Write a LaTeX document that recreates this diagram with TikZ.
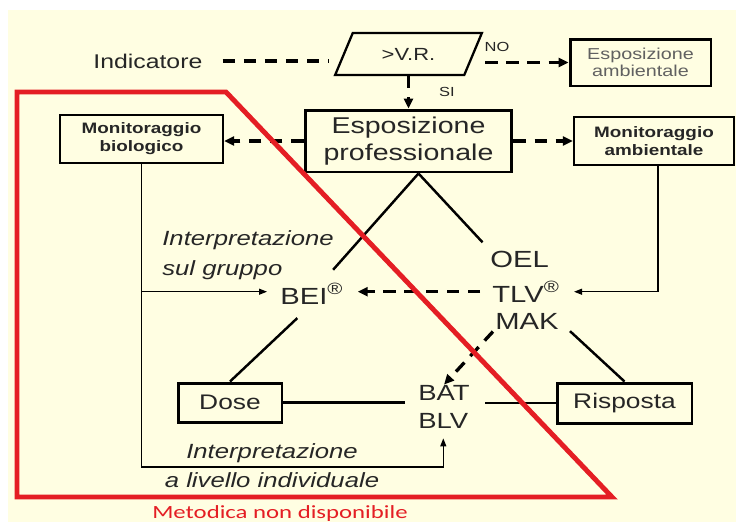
\documentclass[tikz,border=0pt]{standalone}
\usepackage{fontspec}
\setmainfont{Liberation Sans}[FakeStretch=1.25]
\newfontfamily\redfont{Carlito}[FakeStretch=1.33]
\usetikzlibrary{shapes.geometric,arrows.meta}
\definecolor{cream}{RGB}{255,254,226}
\definecolor{ink}{RGB}{38,38,38}
\definecolor{redline}{RGB}{228,30,36}

\begin{document}
\begin{tikzpicture}[x = .02cm, y = -.02cm,
  box/.style = {draw = black, line width = 1.7pt, fill = cream, align = center, text = ink, inner sep = 0pt},
  lbl/.style = {inner sep = 0pt, text = ink},
  tri/.style = {line width = 1.4pt},
  dline/.style = {line width = 1.9pt, dash pattern = on 7pt off 5pt},
  darrow/.style = {dline, -{Triangle[length = .2cm, width = .18cm]}},
  tarrow/.style = {line width = .7pt, -{Triangle[length = .16cm, width = .12cm]}}]
\useasboundingbox (0,0) rectangle (736,522);
\fill[white] (0,0) rectangle (736,522);
\fill[cream] (8,10) rectangle (736,522);

% top row
\node[lbl, anchor = base west, font = \fontsize{11.3}{13}\selectfont] (ind) at (93,68) {Indicatore};
\node[box, trapezium, trapezium left angle = 55, trapezium right angle = 125, trapezium stretches, minimum width = 2.94cm, minimum height = .84cm, line width = 1.3pt, font = \fontsize{10}{12}\selectfont] (vr) at (408.5,54) {>V.R.};
\node[lbl, font = \fontsize{7.5}{9}\selectfont] (no) at (497,47) {NO};
\node[lbl, font = \fontsize{7.5}{9}\selectfont] (si) at (447,92) {SI};
\node[box, minimum width = 2.82cm, minimum height = .94cm, text = black!62, font = \fontsize{9}{9.8}\selectfont] (esa) at (640.5,62.5) {Esposizione\\ambientale};

% second row
\node[box, minimum width = 4.14cm, minimum height = 1.24cm, font = \fontsize{13}{15.3}\selectfont] (ep) at (408.5,141) {Esposizione\\professionale};
\node[box, line width = 1.4pt, minimum width = 3.26cm, minimum height = .96cm, font = \bfseries\fontsize{8.6}{10.3}\selectfont] (mb) at (141.5,139) {Monitoraggio\\biologico};
\node[box, line width = 1.4pt, minimum width = 3.2cm, minimum height = .96cm, font = \bfseries\fontsize{8.6}{10.3}\selectfont] (ma) at (654,141) {Monitoraggio\\ambientale};

% limit values
\node[lbl, anchor = base west, font = \fontsize{13.3}{15}\selectfont] (oel) at (490,267) {OEL};
\node[lbl, anchor = base west, font = \fontsize{13.3}{15}\selectfont] (tlv) at (492,302) {TLV\textsuperscript{®}};
\node[lbl, anchor = base west, font = \fontsize{13.3}{15}\selectfont] (mak) at (495,329) {MAK};
\node[lbl, anchor = base west, font = \fontsize{13.3}{15}\selectfont] (bei) at (280,304) {BEI\textsuperscript{®}};
\node[lbl, anchor = base west, font = \fontsize{12.5}{15}\selectfont] (bat) at (418,400) {BAT};
\node[lbl, anchor = base west, font = \fontsize{12.5}{15}\selectfont] (blv) at (418,428) {BLV};

% bottom row
\node[box, minimum width = 2.08cm, minimum height = .78cm, font = \fontsize{12}{14}\selectfont] (dose) at (230,402.5) {Dose};
\node[box, minimum width = 2.7cm, minimum height = .8cm, font = \fontsize{12}{14}\selectfont] (risp) at (624.5,403) {Risposta};

% italic notes
\node[lbl, anchor = base west, font = \itshape\fontsize{11.7}{14}\selectfont] (ig1) at (162,245) {Interpretazione};
\node[lbl, anchor = base west, font = \itshape\fontsize{11.7}{14}\selectfont] (ig2) at (162,275) {sul gruppo};
\node[lbl, anchor = base, font = \itshape\fontsize{11.7}{14}\selectfont] (ii1) at (272,458) {Interpretazione};
\node[lbl, anchor = base, font = \itshape\fontsize{11.7}{14}\selectfont] (ii2) at (272,487) {a livello individuale};

\coordinate (apex) at ([xshift = .2cm]ep.south);
\coordinate (low) at (143,467);

% dashed flow
\draw[dline] ([xshift = .4cm]ind.east) -- ([xshift = -.29cm]vr.west |- ind.east);
\draw[darrow] ([xshift = .22cm]vr.east |- esa.west) -- (esa.west);
\draw[darrow] (ep.north |- vr.south) -- (ep.north);
\draw[darrow] (ep.west) -- (ep.west -| mb.east);
\draw[darrow] (ep.east) -- (ep.east -| ma.west);
\draw[darrow, shorten <= .24cm, shorten >= .28cm] (tlv.west) -- (tlv.west -| bei.east);
\draw[darrow, shorten <= .06cm] (mak.south west) -- (bat.north);

% triangle
\draw[tri, shorten >= .64cm] (apex) -- (bei.center);
\draw[tri, shorten >= .22cm] (apex) -- (oel.north west);
\draw[tri, shorten <= .4cm] (bei.south) -- (dose.north);
\draw[tri, shorten <= .3cm] (mak.east) -- (risp.north);
\draw[tri, shorten >= .26cm] (dose.east) -- (dose.east -| bat.west);
\draw[tri, shorten <= .3cm] (risp.west -| bat.east) -- (risp.west);

% monitoring lines
\draw[tarrow, shorten >= .28cm] ([xshift = .08cm]ma.south) |- (tlv.east);
\draw[tarrow, shorten >= .26cm] (mb.south |- tlv.west) -- (bei.west |- tlv.west);
\draw[tarrow, shorten >= .2cm] (mb.south) -- (mb.south |- low) -| (blv.south);

% red frame
\draw[redline, line width = 2.8pt, line join = miter] (17,92) -- (226,92) -- (612,497) -- (17,497) -- cycle;
\node[inner sep = 0pt, anchor = base, text = redline, font = \redfont\fontsize{10.6}{12}\selectfont] (nd) at (280,518) {Metodica non disponibile};
\end{tikzpicture}
\end{document}
